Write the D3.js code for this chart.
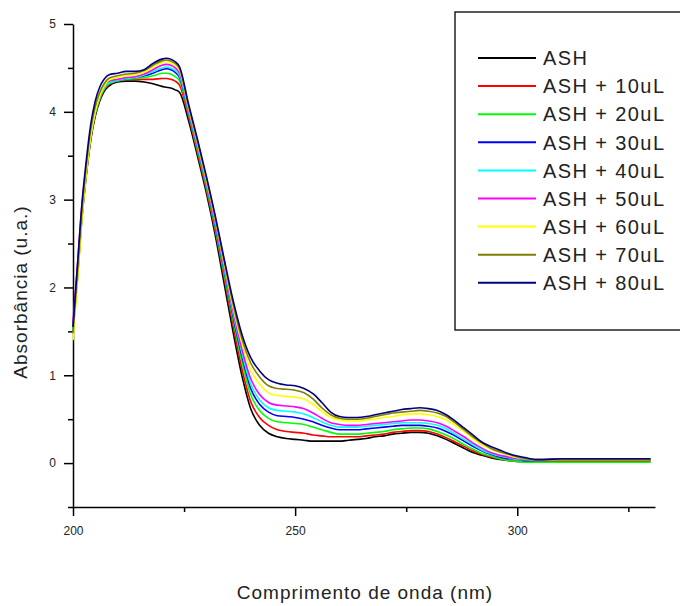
<!DOCTYPE html>
<html>
<head>
    <meta charset="utf-8">
    <script src="https://d3js.org/d3.v7.min.js"></script>
    <style>
        body { margin: 0; background: #fff; }
        text { font-family: "Liberation Sans", Arial, sans-serif; fill: #222; }
    </style>
</head>
<body>
    <svg width="680" height="606"></svg>

    <script>
        // comprimento de onda (nm)
        var wavelengths = [200,201,202,203,204,205,206,207,208,
            210,212,214,216,218,220,221,222,223,224,
            226,228,230,232,234,236,238,240,
            242,244,246,248,250,252,254,256,258,
            260,262,264,266,268,270,272,274,276,278,280,282,284,286,288,290,
            292,294,296,298,300,302,304,306,310,320,330];

        var seriesNames = ["ASH", "ASH + 10uL", "ASH + 20uL", "ASH + 30uL", "ASH + 40uL",
            "ASH + 50uL", "ASH + 60uL", "ASH + 70uL", "ASH + 80uL"];

        var seriesColors = ["#000000", "#ff0000", "#00ff00", "#0000ff", "#00ffff",
            "#ff00ff", "#ffff00", "#808000", "#000080"];

        var ash = [1.50,2.10,2.78,3.28,3.68,3.95,4.12,4.23,4.29,
            4.34,4.35,4.35,4.34,4.32,4.29,4.28,4.27,4.25,4.22,
            3.90,3.50,3.08,2.60,2.05,1.50,1.00,0.62,
            0.43,0.34,0.30,0.28,0.27,0.26,0.25,0.25,0.25,
            0.25,0.26,0.27,0.28,0.30,0.31,0.33,0.34,0.35,0.35,0.34,0.31,0.27,0.22,0.17,0.12,
            0.09,0.06,0.04,0.03,0.02,0.02,0.02,0.02,0.03,0.03,0.03];
        var ash10 = [1.52,2.12,2.80,3.30,3.70,3.97,4.14,4.25,4.31,
            4.35,4.37,4.37,4.37,4.37,4.38,4.38,4.37,4.35,4.30,
            3.95,3.54,3.12,2.65,2.12,1.58,1.08,0.70,
            0.52,0.43,0.38,0.36,0.35,0.34,0.32,0.31,0.30,
            0.30,0.30,0.30,0.31,0.32,0.33,0.35,0.36,0.37,0.37,0.36,0.33,0.29,0.24,0.19,0.14,
            0.10,0.07,0.05,0.03,0.02,0.02,0.02,0.02,0.02,0.02,0.02];
        var ash20 = [1.50,2.14,2.82,3.32,3.72,3.98,4.15,4.26,4.32,
            4.35,4.37,4.38,4.39,4.41,4.44,4.44,4.43,4.40,4.35,
            3.98,3.57,3.15,2.68,2.16,1.64,1.16,0.78,
            0.60,0.51,0.47,0.46,0.45,0.44,0.41,0.38,0.35,
            0.33,0.33,0.33,0.34,0.35,0.36,0.38,0.39,0.40,0.40,0.39,0.36,0.32,0.27,0.21,0.16,
            0.11,0.08,0.05,0.03,0.02,0.01,0.01,0.01,0.01,0.01,0.01];
        var ash30 = [1.55,2.18,2.86,3.36,3.76,4.02,4.18,4.28,4.34,
            4.36,4.38,4.39,4.41,4.44,4.48,4.49,4.48,4.45,4.39,
            4.00,3.60,3.18,2.71,2.20,1.68,1.22,0.85,
            0.67,0.58,0.54,0.53,0.52,0.50,0.47,0.43,0.40,
            0.38,0.38,0.38,0.39,0.40,0.41,0.42,0.43,0.43,0.43,0.42,0.40,0.36,0.31,0.25,0.19,
            0.14,0.10,0.07,0.05,0.04,0.03,0.03,0.03,0.04,0.04,0.04];
        var ash40 = [1.52,2.16,2.84,3.34,3.74,4.00,4.17,4.27,4.33,
            4.36,4.38,4.39,4.42,4.46,4.50,4.51,4.50,4.47,4.41,
            4.01,3.61,3.19,2.73,2.22,1.71,1.26,0.90,
            0.72,0.63,0.60,0.59,0.58,0.56,0.52,0.47,0.43,
            0.41,0.41,0.41,0.42,0.43,0.44,0.45,0.46,0.46,0.46,0.45,0.43,0.39,0.33,0.27,0.21,
            0.15,0.11,0.08,0.06,0.04,0.04,0.03,0.03,0.04,0.04,0.04];
        var ash50 = [1.60,2.25,2.92,3.40,3.78,4.03,4.19,4.29,4.35,
            4.37,4.39,4.40,4.43,4.48,4.53,4.54,4.53,4.50,4.44,
            4.03,3.63,3.21,2.75,2.25,1.74,1.30,0.96,
            0.78,0.69,0.66,0.65,0.64,0.62,0.57,0.51,0.46,
            0.44,0.43,0.43,0.44,0.45,0.46,0.47,0.48,0.49,0.49,0.48,0.46,0.42,0.36,0.30,0.23,
            0.17,0.12,0.09,0.07,0.05,0.05,0.04,0.04,0.05,0.05,0.05];
        var ash60 = [1.40,2.05,2.76,3.30,3.72,4.00,4.18,4.29,4.36,
            4.39,4.41,4.42,4.45,4.51,4.56,4.57,4.56,4.53,4.47,
            4.05,3.65,3.23,2.78,2.28,1.78,1.37,1.06,
            0.90,0.80,0.77,0.76,0.75,0.73,0.67,0.59,0.52,
            0.49,0.48,0.48,0.49,0.50,0.52,0.53,0.55,0.56,0.56,0.55,0.53,0.49,0.43,0.36,0.28,
            0.21,0.16,0.12,0.09,0.06,0.05,0.04,0.04,0.04,0.04,0.04];
        var ash70 = [1.48,2.15,2.85,3.38,3.80,4.06,4.22,4.32,4.38,
            4.41,4.43,4.44,4.47,4.53,4.58,4.59,4.58,4.55,4.49,
            4.07,3.67,3.25,2.80,2.31,1.82,1.42,1.14,
            0.98,0.88,0.85,0.84,0.83,0.80,0.73,0.63,0.55,
            0.51,0.50,0.50,0.51,0.53,0.55,0.57,0.58,0.59,0.60,0.59,0.57,0.53,0.46,0.38,0.30,
            0.23,0.17,0.13,0.10,0.07,0.05,0.04,0.04,0.04,0.04,0.04];
        var ash80 = [1.55,2.25,2.95,3.45,3.86,4.12,4.28,4.37,4.42,
            4.44,4.46,4.46,4.48,4.55,4.60,4.61,4.60,4.57,4.51,
            4.09,3.69,3.27,2.82,2.33,1.86,1.47,1.20,
            1.05,0.95,0.91,0.89,0.88,0.85,0.79,0.69,0.58,
            0.53,0.52,0.52,0.53,0.55,0.57,0.59,0.61,0.62,0.63,0.62,0.60,0.55,0.48,0.40,0.32,
            0.24,0.19,0.15,0.11,0.08,0.06,0.04,0.04,0.05,0.05,0.05];

        var seriesValues = [ash, ash10, ash20, ash30, ash40, ash50, ash60, ash70, ash80];

        var xTicks = [200, 250, 300];
        var xMinorTicks = [225, 275, 325];
        var yTicks = [0, 1, 2, 3, 4, 5];
        var yMinorTicks = [-0.5, 0.5, 1.5, 2.5, 3.5, 4.5];

        var svg = d3.select("svg");

        var x = d3.scaleLinear().domain([200, 331]).range([73, 655]);
        var y = d3.scaleLinear().domain([-0.5, 5]).range([507, 24]);

        // eixos: ticks menores primeiro, depois os principais
        svg.append("g")
            .attr("transform", "translate(0,507)")
            .call(d3.axisBottom(x).tickValues(xMinorTicks).tickSize(5).tickFormat(""))
            .call(function(g) { g.select(".domain").remove(); });

        svg.append("g")
            .attr("transform", "translate(73,0)")
            .call(d3.axisLeft(y).tickValues(yMinorTicks).tickSize(5).tickFormat(""))
            .call(function(g) { g.select(".domain").remove(); });

        svg.append("g")
            .attr("transform", "translate(0,507)")
            .call(d3.axisBottom(x).tickValues(xTicks).tickSize(9).tickSizeOuter(0)
                .tickPadding(10).tickFormat(d3.format("d")));

        svg.append("g")
            .attr("transform", "translate(73,0)")
            .call(d3.axisLeft(y).tickValues(yTicks).tickSize(9).tickSizeOuter(0)
                .tickPadding(8).tickFormat(d3.format("d")));

        svg.selectAll(".domain").attr("stroke", "#000").attr("stroke-width", 1.5);
        svg.selectAll(".tick line").attr("stroke", "#000").attr("stroke-width", 1.5);
        svg.selectAll(".tick text")
            .style("font-family", "'Liberation Sans', Arial, sans-serif")
            .style("font-size", "12px")
            .attr("fill", "#222");

        // curvas
        var line = d3.line()
            .x(function(d) { return x(d[0]); })
            .y(function(d) { return y(d[1]); })
            .curve(d3.curveMonotoneX);

        svg.append("g")
            .selectAll("path")
            .data(seriesValues)
            .enter().append("path")
            .attr("fill", "none")
            .attr("stroke", function(d, i) { return seriesColors[i]; })
            .attr("stroke-width", 1.6)
            .attr("d", function(vals) {
                return line(wavelengths.map(function(w, j) { return [w, vals[j]]; }));
            });

        // títulos
        svg.append("text")
            .attr("x", 365)
            .attr("y", 599)
            .attr("text-anchor", "middle")
            .style("font-size", "19px")
            .style("letter-spacing", "1px")
            .text("Comprimento de onda (nm)");

        svg.append("text")
            .attr("transform", "translate(27,292) rotate(-90)")
            .attr("text-anchor", "middle")
            .style("font-size", "19px")
            .style("letter-spacing", "1px")
            .text("Absorbância (u.a.)");

        // legenda
        var legend = svg.append("g");
        legend.append("rect")
            .attr("x", 455).attr("y", 12)
            .attr("width", 240).attr("height", 318)
            .attr("fill", "#fff")
            .attr("stroke", "#222")
            .attr("stroke-width", 1.5);

        var item = legend.selectAll(".item")
            .data(seriesNames)
            .enter().append("g")
            .attr("class", "item")
            .attr("transform", function(d, i) { return "translate(0," + (58 + i * 28.1) + ")"; });

        item.append("line")
            .attr("x1", 478).attr("x2", 536)
            .attr("stroke", function(d, i) { return seriesColors[i]; })
            .attr("stroke-width", 2);

        item.append("text")
            .attr("x", 543)
            .attr("dy", "0.36em")
            .style("font-size", "20px")
            .style("letter-spacing", "1.4px")
            .text(function(d) { return d; });
    </script>
</body>
</html>
